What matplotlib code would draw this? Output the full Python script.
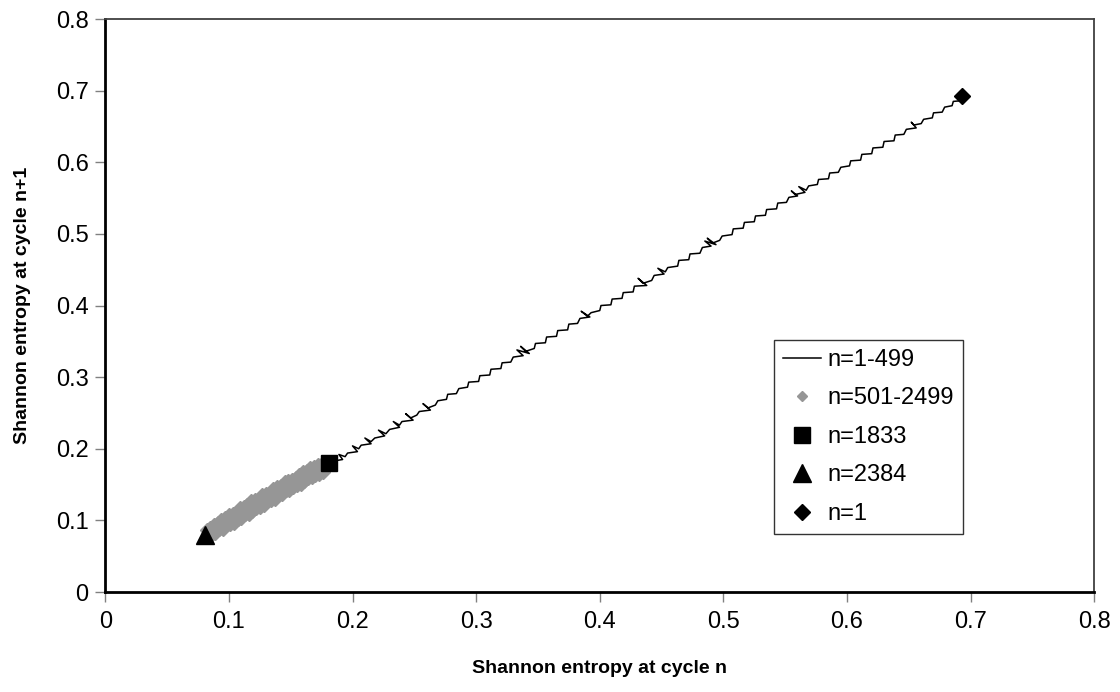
import matplotlib
matplotlib.use('Agg')
import matplotlib.pyplot as plt
from matplotlib.lines import Line2D

plt.rcParams['font.family'] = ['Liberation Sans', 'DejaVu Sans']

# Shannon entropy per cycle, n=1..499 (approximate)
entropy_early = [
    0.693, 0.686, 0.685, 0.679, 0.677, 0.670, 0.669, 0.662, 0.660, 0.654,
    0.652, 0.656, 0.648, 0.646, 0.639, 0.638, 0.630, 0.629, 0.621, 0.620,
    0.612, 0.611, 0.603, 0.602, 0.595, 0.593, 0.586, 0.585, 0.577, 0.576,
    0.569, 0.567, 0.561, 0.566, 0.558, 0.555, 0.560, 0.553, 0.551, 0.544,
    0.543, 0.535, 0.534, 0.526, 0.525, 0.517, 0.516, 0.508, 0.507, 0.499,
    0.497, 0.491, 0.487, 0.494, 0.485, 0.490, 0.483, 0.481, 0.473, 0.472,
    0.464, 0.463, 0.455, 0.453, 0.447, 0.452, 0.444, 0.442, 0.435, 0.431,
    0.438, 0.428, 0.427, 0.419, 0.418, 0.410, 0.409, 0.401, 0.400, 0.393,
    0.390, 0.385, 0.392, 0.384, 0.382, 0.375, 0.374, 0.366, 0.365, 0.357,
    0.356, 0.348, 0.347, 0.340, 0.336, 0.343, 0.333, 0.338, 0.330, 0.328,
    0.321, 0.320, 0.312, 0.311, 0.303, 0.302, 0.294, 0.293, 0.286, 0.284,
    0.277, 0.276, 0.269, 0.267, 0.261, 0.257, 0.263, 0.254, 0.252, 0.247,
    0.243, 0.249, 0.240, 0.238, 0.233, 0.238, 0.230, 0.227, 0.221, 0.226,
    0.218, 0.215, 0.210, 0.215, 0.207, 0.205, 0.200, 0.204, 0.196, 0.194,
    0.189, 0.192, 0.185, 0.183, 0.181,
]

# n=501-2499 cloud (upper and lower edge of the grey band)
gray_x_upper = [0.082, 0.085, 0.088, 0.091, 0.094, 0.097, 0.100, 0.103, 0.106, 0.109,
                0.112, 0.115, 0.118, 0.121, 0.124, 0.127, 0.130, 0.133, 0.136, 0.139,
                0.142, 0.145, 0.148, 0.151, 0.154, 0.157, 0.160, 0.163, 0.166, 0.169,
                0.172, 0.175, 0.178]
gray_y_upper = [0.086, 0.090, 0.094, 0.096, 0.101, 0.103, 0.107, 0.109, 0.111, 0.117,
                0.119, 0.121, 0.127, 0.128, 0.130, 0.135, 0.137, 0.138, 0.144, 0.146,
                0.148, 0.153, 0.155, 0.157, 0.159, 0.164, 0.168, 0.169, 0.173, 0.174,
                0.178, 0.179, 0.180]
gray_x_lower = [0.083, 0.086, 0.089, 0.092, 0.095, 0.098, 0.101, 0.104, 0.107, 0.110,
                0.113, 0.116, 0.119, 0.122, 0.125, 0.128, 0.131, 0.134, 0.137, 0.140,
                0.143, 0.146, 0.149, 0.152, 0.155, 0.158, 0.161, 0.164, 0.167, 0.170,
                0.173, 0.176]
gray_y_lower = [0.080, 0.081, 0.083, 0.088, 0.088, 0.093, 0.095, 0.097, 0.102, 0.104,
                0.109, 0.109, 0.113, 0.117, 0.118, 0.122, 0.127, 0.128, 0.130, 0.135,
                0.137, 0.142, 0.142, 0.146, 0.150, 0.151, 0.155, 0.159, 0.160, 0.164,
                0.165, 0.167]

# highlighted cycles
p1833 = (0.181, 0.180)
p2384 = (0.081, 0.079)
p1 = (0.693, 0.693)

ticks = [0, 0.1, 0.2, 0.3, 0.4, 0.5, 0.6, 0.7, 0.8]
tick_labels = ['0', '0.1', '0.2', '0.3', '0.4', '0.5', '0.6', '0.7', '0.8']

fig = plt.figure(figsize=(11.2, 6.92), dpi=100)
ax = fig.add_axes([0.094, 0.1445, 0.883, 0.828])

ax.plot(entropy_early[:-1], entropy_early[1:], color='black', lw=1.1, zorder=2)
ax.plot(gray_x_upper + gray_x_lower, gray_y_upper + gray_y_lower, ls='none',
        marker='D', ms=7.5, color='#969696', mec='#969696', zorder=1)
ax.plot(*p1833, marker='s', ms=12, color='black', ls='none', zorder=3)
ax.plot(*p2384, marker='^', ms=12.5, color='black', ls='none', zorder=3)
ax.plot(*p1, marker='D', ms=8.2, color='black', ls='none', zorder=3)

ax.set_xlim(0, 0.8)
ax.set_ylim(0, 0.8)
ax.set_xticks(ticks)
ax.set_xticklabels(tick_labels)
ax.set_yticks(ticks)
ax.set_yticklabels(tick_labels)
ax.tick_params(direction='out', length=7, width=1, color='#808080',
               labelsize=17)
ax.tick_params(axis='x', pad=7)
ax.tick_params(axis='y', pad=5)

for s in ['left', 'bottom']:
    ax.spines[s].set_linewidth(2)
    ax.spines[s].set_color('black')
for s in ['top', 'right']:
    ax.spines[s].set_linewidth(1.3)
    ax.spines[s].set_color('#404040')

ax.set_xlabel('Shannon entropy at cycle n', fontsize=14, fontweight='bold', labelpad=19)
ax.set_ylabel('Shannon entropy at cycle n+1', fontsize=14, fontweight='bold', labelpad=18)

handles = [
    Line2D([], [], color='black', lw=1.1),
    Line2D([], [], ls='none', marker='D', ms=5, color='#969696'),
    Line2D([], [], ls='none', marker='s', ms=12, color='black'),
    Line2D([], [], ls='none', marker='^', ms=12.5, color='black'),
    Line2D([], [], ls='none', marker='D', ms=8.5, color='black'),
]
labels = ['n=1-499', 'n=501-2499', 'n=1833', 'n=2384', 'n=1']
leg = ax.legend(handles, labels, loc='upper left', bbox_to_anchor=(0.676, 0.440),
                fontsize=17, frameon=True, fancybox=False, labelspacing=0.7,
                handlelength=1.6, handletextpad=0.3, borderpad=0.38,
                borderaxespad=0)
leg.get_frame().set_edgecolor('black')
leg.get_frame().set_linewidth(1.0)

fig.savefig('out.png', dpi=100)
